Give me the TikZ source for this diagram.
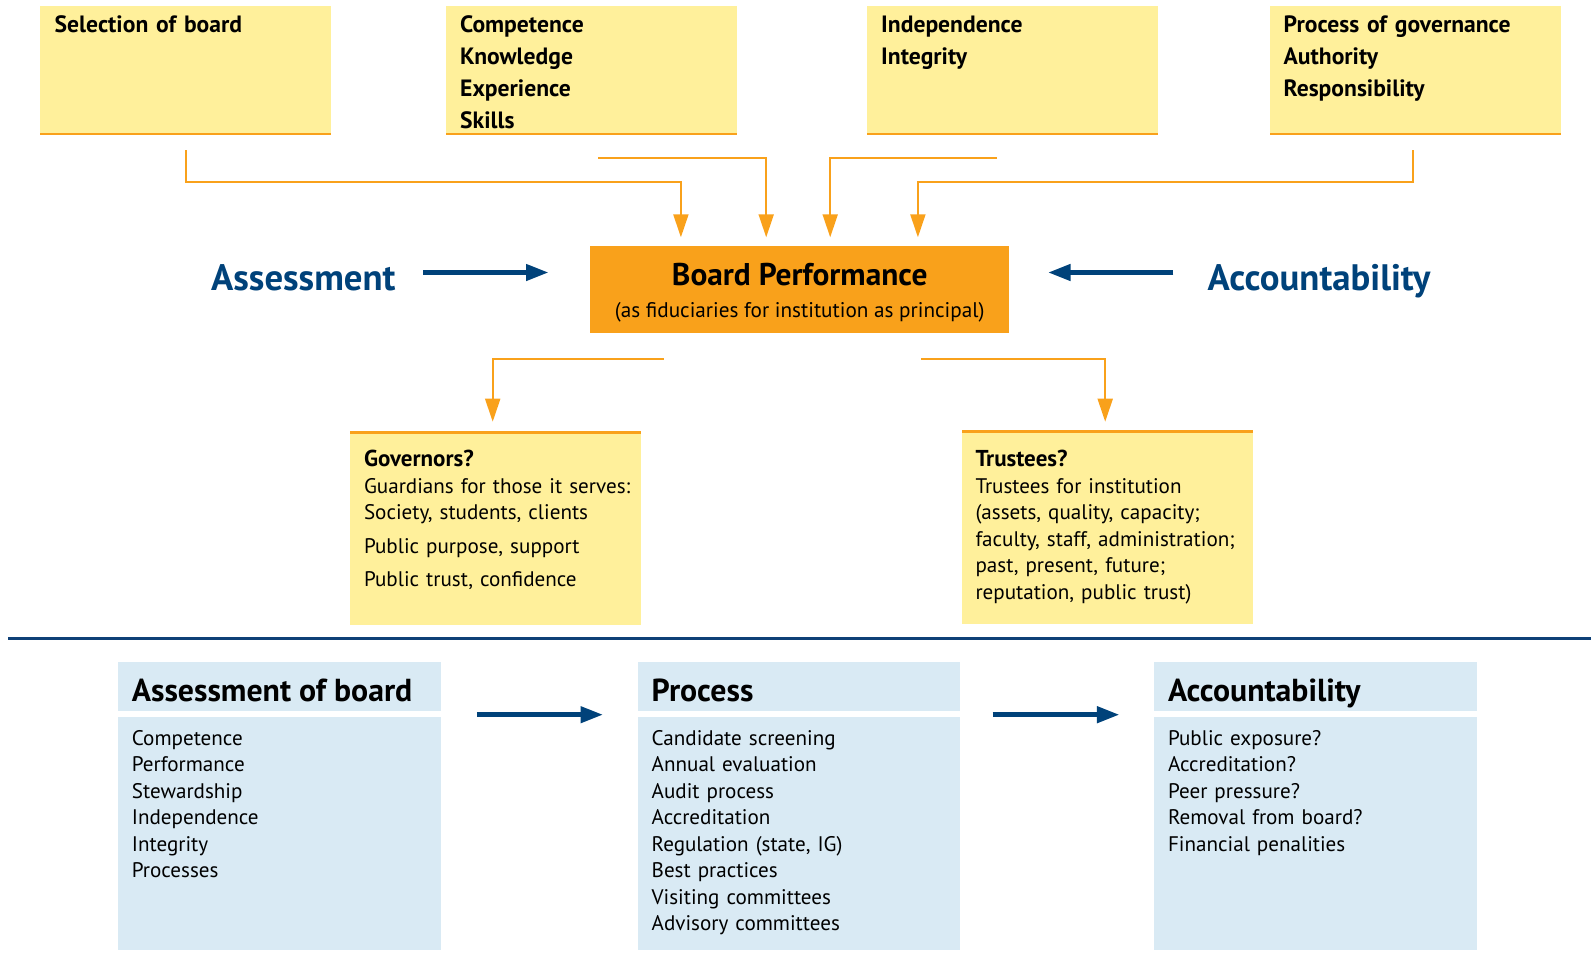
\documentclass[tikz,border=0pt]{standalone}
\usepackage{fontspec}
\setmainfont{PT Sans}
\usetikzlibrary{shapes,arrows,arrows.meta}
\definecolor{boxyellow}{HTML}{FFF09B}
\definecolor{boxorange}{HTML}{F9A11B}
\definecolor{boxblue}{HTML}{D9EAF4}
\definecolor{textblue}{HTML}{00427A}
\definecolor{ruleblue}{HTML}{0E4077}

\begin{document}
\begin{tikzpicture}[x=1pt,y=-1pt,
    block_top/.style ={rectangle, draw=none, fill=boxyellow, anchor=north west, inner sep=0pt,
      minimum width=291pt, minimum height=129pt},
    block_mid/.style ={rectangle, draw=none, fill=boxyellow, anchor=north west, inner sep=0pt,
      minimum width=291pt, minimum height=194pt},
    block_board/.style ={rectangle, draw=none, fill=boxorange, anchor=north west, inner sep=0pt,
      minimum width=419pt, minimum height=87pt},
    block_head/.style ={rectangle, draw=none, fill=boxblue, anchor=north west, inner sep=0pt,
      minimum width=322.5pt, minimum height=49pt},
    block_body/.style ={rectangle, draw=none, fill=boxblue, anchor=north west, inner sep=0pt,
      minimum width=322.5pt, minimum height=233pt},
    text_top/.style ={anchor=base west, inner sep=0pt, text width=400pt, align=left,
      font=\fontsize{23.6}{32}\selectfont\bfseries},
    text_body/.style ={anchor=base west, inner sep=0pt, text width=400pt, align=left,
      font=\fontsize{21.1}{26.5}\selectfont},
    text_head/.style ={anchor=base west, inner sep=0pt, font=\fontsize{31.8}{36}\selectfont\bfseries},
    text_label/.style ={anchor=base west, inner sep=0pt, text=textblue,
      font=\fontsize{36.8}{40}\selectfont\bfseries},
    rule_orange/.style ={draw=boxorange, line width=2.7pt},
    line_orange/.style ={draw=boxorange, line width=2pt, -{Triangle[length=23pt,width=15pt]}},
    line_blue/.style ={draw=textblue, line width=5.5pt, -{Triangle[length=23pt,width=15.5pt]}}]
  \useasboundingbox (0,0) rectangle (1591,972);
  % top row of boxes
  \node [block_top] (selection) at (40,6) {};
  \node [block_top] (competence) at (446,6) {};
  \node [block_top] (independence) at (867,6) {};
  \node [block_top] (governance) at (1270,6) {};
  \node [text_top] (selection_txt) at ([xshift=14.5pt,yshift=-26pt]selection.north west) {Selection of board};
  \node [text_top] (competence_txt) at ([xshift=14pt,yshift=-26pt]competence.north west) {
    Competence\\Knowledge\\Experience\\Skills};
  \node [text_top] (independence_txt) at ([xshift=14pt,yshift=-26pt]independence.north west) {
    Independence\\Integrity};
  \node [text_top] (governance_txt) at ([xshift=13.5pt,yshift=-26pt]governance.north west) {
    Process of governance\\Authority\\Responsibility};
  \foreach \topbox in {selection,competence,independence,governance}
    \draw [rule_orange] ([yshift=1.35pt]\topbox.south west) -- ([yshift=1.35pt]\topbox.south east);
  % board performance
  \node [block_board] (board) at (590,246) {};
  \node [anchor=base, inner sep=0pt, font=\fontsize{31.4}{36}\selectfont\bfseries] (board_title)
    at ([yshift=-39.7pt]board.north) {Board Performance};
  \node [anchor=base, inner sep=0pt, font=\fontsize{21.2}{26}\selectfont] (board_sub)
    at ([yshift=-71.7pt]board.north) {(as fiduciaries for institution as principal)};
  \node [text_label] (assessment) at (211,290) {Assessment};
  \node [text_label] (accountability) at (1207.5,290) {Accountability};
  % governors and trustees
  \node [block_mid] (governors) at (350,431) {};
  \node [block_mid] (trustees) at (962,430) {};
  \draw [rule_orange] ([yshift=-1.5pt]governors.north west) -- ([yshift=-1.5pt]governors.north east);
  \draw [rule_orange] ([yshift=-1.3pt]trustees.north west) -- ([yshift=-1.3pt]trustees.north east);
  \node [text_body] (governors_txt) at ([xshift=13.8pt,yshift=-35.7pt]governors.north west) {
    {\fontsize{23}{26.5}\selectfont\bfseries Governors?}\\
    Guardians for those it serves:\\
    Society, students, clients\\[7pt]
    Public purpose, support\\[7pt]
    Public trust, confidence};
  \node [text_body] (trustees_txt) at ([xshift=13.3pt,yshift=-36.7pt]trustees.north west) {
    {\fontsize{23}{26.5}\selectfont\bfseries Trustees?}\\
    Trustees for institution\\
    (assets, quality, capacity;\\
    faculty, staff, administration;\\
    past, present, future;\\
    reputation, public trust)};
  % dividing rule
  \coordinate (rule_left) at (8,638);
  \coordinate (rule_right) at (1591,638);
  \draw [draw=ruleblue, line width=3pt] (rule_left) -- (rule_right);
  % bottom row: assessment, process, accountability
  \node [block_head] (assess_head) at (118,662) {};
  \node [block_body] (assess_body) at (118,717) {};
  \node [block_head] (process_head) at (637.5,662) {};
  \node [block_body] (process_body) at (637.5,717) {};
  \node [block_head] (account_head) at (1154,662) {};
  \node [block_body] (account_body) at (1154,717) {};
  \node [text_head] (assess_title) at ([xshift=13.7pt,yshift=-39.7pt]assess_head.north west) {Assessment of board};
  \node [text_head] (process_title) at ([xshift=14pt,yshift=-39.7pt]process_head.north west) {Process};
  \node [text_head] (account_title) at ([xshift=13.8pt,yshift=-39.7pt]account_head.north west) {Accountability};
  \node [text_body] (assess_txt) at ([xshift=13.7pt,yshift=-28pt]assess_body.north west) {
    Competence\\Performance\\Stewardship\\Independence\\Integrity\\Processes};
  \node [text_body] (process_txt) at ([xshift=14pt,yshift=-28pt]process_body.north west) {
    Candidate screening\\Annual evaluation\\Audit process\\Accreditation\\
    Regulation (state, IG)\\Best practices\\Visiting committees\\Advisory committees};
  \node [text_body] (account_txt) at ([xshift=13.8pt,yshift=-28pt]account_body.north west) {
    Public exposure?\\Accreditation?\\Peer pressure?\\Removal from board?\\Financial penalities};
  % free ends of the connectors
  \coordinate (competence_out) at ([xshift=6.5pt,yshift=-23pt]competence.south);
  \coordinate (independence_out) at ([xshift=-15.5pt,yshift=-23pt]independence.south);
  \coordinate (board_left) at ([xshift=-136.2pt,yshift=-25.3pt]board.south);
  \coordinate (board_right) at ([xshift=121.2pt,yshift=-25.3pt]board.south);
  \coordinate (assess_in) at ([yshift=17.2pt]board.west);
  \coordinate (account_in) at ([yshift=17.2pt]board.east);
  % connecting nodes with paths
  \begin{scope}[every path/.style=line_orange]
    \path [shorten <=15pt, shorten >=8.7pt] (selection.south) -- ++(0,47) -| ([xshift=-118.8pt]board.north);
    \path [shorten >=8.7pt] (competence_out) -| ([xshift=-33.5pt]board.north);
    \path [shorten >=8.7pt] (independence_out) -| ([xshift=30.5pt]board.north);
    \path [shorten <=15pt, shorten >=8.7pt] ([xshift=-2.5pt]governance.south) -- ++(0,47) -| ([xshift=118.2pt]board.north);
    \path [shorten >=9.3pt] (board_left) -| ([xshift=-3pt]governors.north);
    \path [shorten >=8.3pt] (board_right) -| ([xshift=-2.5pt]trustees.north);
  \end{scope}
  \begin{scope}[every path/.style=line_blue]
    \path [shorten <=27.4pt, shorten >=41pt] (assess_in -| assessment.east) -- (assess_in);
    \path [shorten <=34.2pt, shorten >=38.2pt] (account_in -| accountability.west) -- (account_in);
    \path [shorten <=36pt, shorten >=34pt] ([yshift=-3.3pt]assess_head.south east) -- ([yshift=-3.3pt]process_head.south west);
    \path [shorten <=32.2pt, shorten >=34.1pt] ([yshift=-3.3pt]process_head.south east) -- ([yshift=-3.3pt]account_head.south west);
  \end{scope}
\end{tikzpicture}
\end{document}
